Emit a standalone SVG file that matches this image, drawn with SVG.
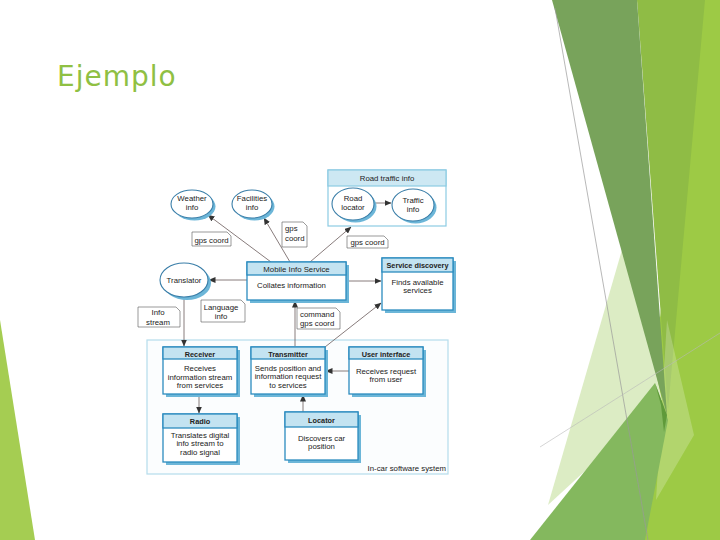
<svg xmlns="http://www.w3.org/2000/svg" width="720" height="540" viewBox="0 0 720 540">
<defs>
<style>
.t{font-family:"Liberation Sans",Arial,sans-serif;font-size:7.8px;fill:#222;}
.b{font-family:"Liberation Sans",Arial,sans-serif;font-size:7.3px;font-weight:bold;fill:#222;}
.box{fill:#fff;stroke:#2b8cbf;stroke-width:1.3;}
.hdr{fill:#c3e3f1;stroke:#2b8cbf;stroke-width:1.3;}
.sh{fill:#6cb6d8;}
.el{fill:#fff;stroke:#3a7ea8;stroke-width:1.1;}
.lbl{fill:#fff;stroke:#555;stroke-width:0.6;}
.cn{stroke:#6a5a5a;stroke-width:0.8;fill:none;marker-end:url(#ah);}
</style>
<marker id="ah" markerWidth="7" markerHeight="6" refX="6.5" refY="3" orient="auto" markerUnits="userSpaceOnUse">
<path d="M0,0 L7,3 L0,6 Z" fill="#333"/>
</marker>
</defs>
<rect width="720" height="540" fill="#fff"/>
<!-- decorative background -->
<g id="decor">
<polygon points="0,320 35,540 0,540" fill="#a5cd52"/>
<polygon points="700,0 720,0 720,540 632,540" fill="#9dca45"/>
<polygon points="637,0 705,0 668,410" fill="#8fbc45"/>
<polygon points="667,320 694,435 656,500" fill="#fff" opacity="0.22"/>
<polygon points="626,236 662,400 548,505" fill="#dcecc4"/>
<polygon points="552,0 637,0 667,415" fill="#78a35b"/>
<polygon points="530,540 655,383 668,420 645,540" fill="#84b85e"/>
<polygon points="655,383 667,415 664,432 661,405" fill="#5f9a3a"/>
<line x1="555" y1="8" x2="648" y2="540" stroke="#9a9a9a" stroke-width="0.7"/>
<line x1="540" y1="447" x2="720" y2="333" stroke="#b8b8b8" stroke-width="0.6"/>
</g>
<text x="57" y="86" font-family="DejaVu Sans, sans-serif" font-size="28" letter-spacing="1" fill="#8fc043">Ejemplo</text>

<!-- containers -->
<g id="road-traffic">
<rect x="328" y="170" width="118" height="56" fill="#fff" stroke="#8ccbe3" stroke-width="1.2"/>
<rect x="328" y="170" width="118" height="16" fill="#cde8f3" stroke="#8ccbe3" stroke-width="1.2"/>
<text class="t" x="387" y="181" text-anchor="middle">Road traffic info</text>
</g>
<g id="in-car">
<rect x="147" y="340" width="301" height="134" fill="#fbfdfe" stroke="#b5dcec" stroke-width="1.2"/>
<text class="t" x="446" y="471" text-anchor="end" font-size="7.3">In-car software system</text>
</g>

<!-- connectors -->
<g id="connectors">
<line class="cn" x1="271" y1="262" x2="208" y2="215"/>
<line class="cn" x1="290" y1="262" x2="264" y2="218"/>
<line class="cn" x1="310" y1="262" x2="351" y2="227"/>
<line class="cn" x1="374" y1="203" x2="391" y2="203"/>
<line class="cn" x1="247" y1="280" x2="209" y2="280"/>
<line class="cn" x1="346" y1="281" x2="381" y2="281"/>
<line class="cn" x1="295" y1="346" x2="295" y2="301"/>
<line class="cn" x1="325" y1="347" x2="381" y2="303"/>
<line class="cn" x1="184" y1="297" x2="184" y2="346"/>
<line class="cn" x1="199" y1="394" x2="199" y2="413"/>
<line class="cn" x1="303" y1="412" x2="303" y2="395"/>
<line class="cn" x1="349" y1="371" x2="326" y2="371"/>
</g>

<!-- labels -->
<g id="label-gps1">
<path class="lbl" d="M192,232 H227 L231,236 V246 H192 Z"/>
<text class="t" x="211.5" y="242.5" text-anchor="middle">gps coord</text>
</g>
<g id="label-gps2">
<path class="lbl" d="M282,222 H303 L307,226 V247 H282 Z"/>
<text class="t" x="285" y="231">gps</text>
<text class="t" x="285" y="241">coord</text>
</g>
<g id="label-gps3">
<path class="lbl" d="M347,236 H384 L388,240 V248 H347 Z"/>
<text class="t" x="367.5" y="245" text-anchor="middle">gps coord</text>
</g>
<g id="label-language">
<path class="lbl" d="M201,300 H241 L245,304 V322 H201 Z"/>
<text class="t" x="221" y="309.5" text-anchor="middle">Language</text>
<text class="t" x="221" y="319" text-anchor="middle">info</text>
</g>
<g id="label-infostream">
<path class="lbl" d="M138,307 H176 L180,311 V327 H138 Z"/>
<text class="t" x="158" y="315" text-anchor="middle">Info</text>
<text class="t" x="158" y="324.5" text-anchor="middle">stream</text>
</g>
<g id="label-command">
<path class="lbl" d="M297,308 H336 L340,312 V329 H297 Z"/>
<text class="t" x="300" y="316.5">command</text>
<text class="t" x="300" y="326">gps coord</text>
</g>

<!-- ellipse nodes -->
<g id="weather">
<ellipse class="sh" cx="194.5" cy="206.5" rx="21" ry="14"/>
<ellipse class="el" cx="192" cy="204" rx="21" ry="14"/>
<text class="t" x="192" y="201" text-anchor="middle">Weather</text>
<text class="t" x="192" y="210" text-anchor="middle">info</text>
</g>
<g id="facilities">
<ellipse class="sh" cx="254.5" cy="206.5" rx="20" ry="14"/>
<ellipse class="el" cx="252" cy="204" rx="20" ry="14"/>
<text class="t" x="252" y="201" text-anchor="middle">Facilities</text>
<text class="t" x="252" y="210" text-anchor="middle">info</text>
</g>
<g id="road-locator">
<ellipse class="sh" cx="355.5" cy="206.5" rx="21" ry="16"/>
<ellipse class="el" cx="353" cy="204" rx="21" ry="16"/>
<text class="t" x="353" y="201" text-anchor="middle">Road</text>
<text class="t" x="353" y="210" text-anchor="middle">locator</text>
</g>
<g id="traffic-info">
<ellipse class="sh" cx="415.5" cy="207.5" rx="21" ry="16"/>
<ellipse class="el" cx="413" cy="205" rx="21" ry="16"/>
<text class="t" x="413" y="203" text-anchor="middle">Traffic</text>
<text class="t" x="413" y="211.5" text-anchor="middle">info</text>
</g>
<g id="translator">
<ellipse class="sh" cx="187" cy="283" rx="24" ry="17"/>
<ellipse class="el" cx="184" cy="280" rx="24" ry="17"/>
<text class="t" x="184" y="283" text-anchor="middle">Translator</text>
</g>

<!-- box nodes -->
<g id="mobile-info-service">
<rect class="sh" x="250" y="265" width="99" height="38"/>
<rect class="box" x="247" y="262" width="99" height="38"/>
<rect class="hdr" x="247" y="262" width="99" height="13"/>
<text class="t" x="296.5" y="271.5" text-anchor="middle">Mobile Info Service</text>
<text class="t" x="257" y="288">Collates information</text>
</g>
<g id="service-discovery">
<rect class="sh" x="385" y="261" width="71" height="52"/>
<rect class="box" x="382" y="258" width="71" height="52"/>
<rect class="hdr" x="382" y="258" width="71" height="14"/>
<text class="b" x="417.5" y="268" text-anchor="middle">Service discovery</text>
<text class="t" x="417.5" y="285" text-anchor="middle">Finds available</text>
<text class="t" x="417.5" y="293" text-anchor="middle">services</text>
</g>
<g id="receiver">
<rect class="sh" x="166" y="350" width="74" height="47"/>
<rect class="box" x="163" y="347" width="74" height="47"/>
<rect class="hdr" x="163" y="347" width="74" height="12"/>
<text class="b" x="200" y="356.5" text-anchor="middle">Receiver</text>
<text class="t" x="200" y="371" text-anchor="middle">Receives</text>
<text class="t" x="200" y="379.5" text-anchor="middle">information stream</text>
<text class="t" x="200" y="388" text-anchor="middle">from services</text>
</g>
<g id="transmitter">
<rect class="sh" x="254" y="350" width="74" height="47"/>
<rect class="box" x="251" y="347" width="74" height="47"/>
<rect class="hdr" x="251" y="347" width="74" height="12"/>
<text class="b" x="288" y="356.5" text-anchor="middle">Transmitter</text>
<text class="t" x="288" y="370.5" text-anchor="middle">Sends position and</text>
<text class="t" x="288" y="379" text-anchor="middle">information request</text>
<text class="t" x="288" y="387.5" text-anchor="middle">to services</text>
</g>
<g id="user-interface">
<rect class="sh" x="352" y="350" width="74" height="47"/>
<rect class="box" x="349" y="347" width="74" height="47"/>
<rect class="hdr" x="349" y="347" width="74" height="12"/>
<text class="b" x="386" y="356.5" text-anchor="middle">User interface</text>
<text class="t" x="386" y="374" text-anchor="middle">Receives request</text>
<text class="t" x="386" y="381.5" text-anchor="middle">from user</text>
</g>
<g id="radio">
<rect class="sh" x="166" y="417" width="74" height="48"/>
<rect class="box" x="163" y="414" width="74" height="48"/>
<rect class="hdr" x="163" y="414" width="74" height="14"/>
<text class="b" x="200" y="424" text-anchor="middle">Radio</text>
<text class="t" x="200" y="438" text-anchor="middle">Translates digital</text>
<text class="t" x="200" y="446" text-anchor="middle">info stream to</text>
<text class="t" x="200" y="454.5" text-anchor="middle">radio signal</text>
</g>
<g id="locator">
<rect class="sh" x="288" y="415" width="73" height="48"/>
<rect class="box" x="285" y="412" width="73" height="48"/>
<rect class="hdr" x="285" y="412" width="73" height="15"/>
<text class="b" x="321.5" y="422.5" text-anchor="middle">Locator</text>
<text class="t" x="321.5" y="441" text-anchor="middle">Discovers car</text>
<text class="t" x="321.5" y="449" text-anchor="middle">position</text>
</g>
</svg>
